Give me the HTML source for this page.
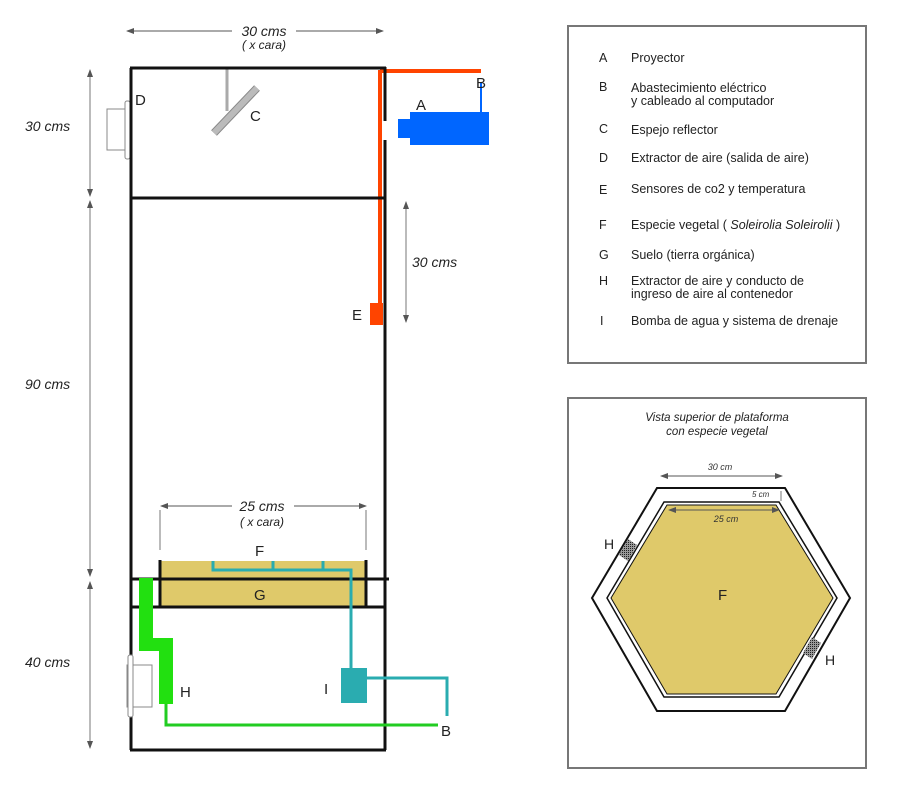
<!DOCTYPE html>
<html><head><meta charset="utf-8"><style>
html,body{margin:0;padding:0;background:#fff}
svg{display:block;font-family:"Liberation Sans",sans-serif}
</style></head><body>
<svg width="900" height="792" viewBox="0 0 900 792" xmlns="http://www.w3.org/2000/svg">
<defs>
<marker id="ar" markerWidth="8" markerHeight="6" refX="7" refY="3" orient="auto-start-reverse" markerUnits="userSpaceOnUse"><path d="M0,0 L8,3 L0,6 z" fill="#555"/></marker>
<pattern id="grid" width="2" height="2" patternUnits="userSpaceOnUse"><rect width="2" height="2" fill="#999"/><rect width="1" height="1" fill="#222"/></pattern>
</defs>

<line x1="127" y1="31" x2="232" y2="31" stroke="#555" stroke-width="1" marker-start="url(#ar)"/>
<line x1="296" y1="31" x2="383" y2="31" stroke="#555" stroke-width="1" marker-end="url(#ar)"/>
<text x="264" y="36" font-size="14" font-style="italic" text-anchor="middle" fill="#222">30 cms</text>
<text x="264" y="49" font-size="12" font-style="italic" text-anchor="middle" fill="#222">( x cara)</text>

<line x1="90" y1="70" x2="90" y2="196" stroke="#777" marker-start="url(#ar)" marker-end="url(#ar)"/>
<line x1="90" y1="201" x2="90" y2="576" stroke="#777" marker-start="url(#ar)" marker-end="url(#ar)"/>
<line x1="90" y1="582" x2="90" y2="748" stroke="#777" marker-start="url(#ar)" marker-end="url(#ar)"/>
<text x="25" y="131" font-size="14" font-style="italic" fill="#222">30 cms</text>
<text x="25" y="389" font-size="14" font-style="italic" fill="#222">90 cms</text>
<text x="25" y="667" font-size="14" font-style="italic" fill="#222">40 cms</text>

<line x1="406" y1="202" x2="406" y2="322" stroke="#777" marker-start="url(#ar)" marker-end="url(#ar)"/>
<text x="412" y="267" font-size="14" font-style="italic" fill="#222">30 cms</text>

<rect x="107" y="109" width="18" height="41" fill="#fff" stroke="#888" stroke-width="1"/>
<rect x="125" y="101" width="5" height="58" rx="2" fill="#fff" stroke="#888" stroke-width="1"/>
<text x="135" y="105" font-size="15" fill="#222">D</text>

<line x1="227" y1="68" x2="227" y2="111" stroke="#aaa" stroke-width="3"/>
<line x1="214" y1="133" x2="257" y2="88" stroke="#888" stroke-width="8"/>
<line x1="214" y1="133" x2="257" y2="88" stroke="#bbb" stroke-width="6"/>
<text x="250" y="121" font-size="15" fill="#222">C</text>

<line x1="380" y1="71" x2="481" y2="71" stroke="#ff4400" stroke-width="4"/>
<line x1="380" y1="70" x2="380" y2="320" stroke="#ff4400" stroke-width="4"/>
<rect x="370" y="303" width="13" height="22" fill="#ff4400"/>
<text x="352" y="320" font-size="15" fill="#222">E</text>

<line x1="481" y1="83" x2="481" y2="113" stroke="#0066ff" stroke-width="2"/>
<rect x="410" y="112" width="79" height="33" fill="#0066ff"/>
<rect x="398" y="119" width="13" height="19" fill="#0066ff"/>
<text x="416" y="110" font-size="15" fill="#222">A</text>
<text x="476" y="88" font-size="15" fill="#222">B</text>

<g stroke="#111" stroke-width="3" fill="none">
<line x1="131" y1="68" x2="131" y2="750"/>
<line x1="130" y1="68" x2="386" y2="68"/>
<line x1="385" y1="67" x2="385" y2="121"/>
<line x1="385" y1="140" x2="385" y2="750"/>
<line x1="130" y1="198" x2="386" y2="198"/>
<line x1="130" y1="750" x2="386" y2="750"/>
</g>

<line x1="161" y1="506" x2="232" y2="506" stroke="#555" marker-start="url(#ar)"/>
<line x1="294" y1="506" x2="366" y2="506" stroke="#555" marker-end="url(#ar)"/>
<line x1="160" y1="510" x2="160" y2="550" stroke="#777"/>
<line x1="366" y1="510" x2="366" y2="550" stroke="#777"/>
<text x="262" y="511" font-size="14" font-style="italic" text-anchor="middle" fill="#222">25 cms</text>
<text x="262" y="526" font-size="12" font-style="italic" text-anchor="middle" fill="#222">( x cara)</text>

<rect x="160" y="561" width="206" height="46" fill="#dfc96a"/>
<line x1="131" y1="579" x2="389" y2="579" stroke="#111" stroke-width="3"/>
<line x1="160" y1="560" x2="160" y2="607" stroke="#111" stroke-width="3"/>
<line x1="366" y1="560" x2="366" y2="607" stroke="#111" stroke-width="3"/>
<line x1="131" y1="607" x2="385" y2="607" stroke="#111" stroke-width="3"/>
<text x="255" y="556" font-size="15" fill="#222">F</text>
<text x="254" y="600" font-size="15" fill="#222">G</text>

<g stroke="#2aacb0" stroke-width="3" fill="none">
<polyline points="213,561 213,570 351,570 351,670"/>
<line x1="273" y1="561" x2="273" y2="570"/>
<line x1="323" y1="561" x2="323" y2="570"/>
<polyline points="366,678 447,678 447,716"/>
</g>
<rect x="341" y="668" width="26" height="35" fill="#2aacb0"/>
<text x="324" y="694" font-size="15" fill="#222">I</text>

<rect x="127" y="665" width="25" height="42" fill="#fff" stroke="#888"/>
<rect x="128" y="655" width="5" height="62" rx="2" fill="#fff" stroke="#888"/>
<polygon points="139,578 153,578 153,638 173,638 173,704 159,704 159,651 139,651" fill="#22e010"/>
<polyline points="166,704 166,725 438,725" stroke="#22cc22" stroke-width="3" fill="none"/>
<text x="180" y="697" font-size="15" fill="#222">H</text>
<text x="441" y="736" font-size="15" fill="#222">B</text>

<rect x="568" y="26" width="298" height="337" fill="#fff" stroke="#777" stroke-width="2"/>
<g font-size="12.5" fill="#222">
<text x="599" y="62">A</text><text x="631" y="62">Proyector</text>
<text x="599" y="91">B</text><text x="631" y="92">Abastecimiento eléctrico</text><text x="631" y="105">y cableado al computador</text>
<text x="599" y="133">C</text><text x="631" y="134">Espejo reflector</text>
<text x="599" y="162">D</text><text x="631" y="162">Extractor de aire (salida de aire)</text>
<text x="599" y="194">E</text><text x="631" y="193">Sensores de co2 y temperatura</text>
<text x="599" y="229">F</text><text x="631" y="229">Especie vegetal ( <tspan font-style="italic">Soleirolia Soleirolii</tspan> )</text>
<text x="599" y="259">G</text><text x="631" y="259">Suelo (tierra orgánica)</text>
<text x="599" y="285">H</text><text x="631" y="285">Extractor de aire y conducto de</text><text x="631" y="298">ingreso de aire al contenedor</text>
<text x="600" y="325">I</text><text x="631" y="325">Bomba de agua y sistema de drenaje</text>
</g>

<rect x="568" y="398" width="298" height="370" fill="#fff" stroke="#777" stroke-width="2"/>
<text x="717" y="421" font-size="11.5" font-style="italic" text-anchor="middle" fill="#222">Vista superior de plataforma</text>
<text x="717" y="435" font-size="11.5" font-style="italic" text-anchor="middle" fill="#222">con especie vegetal</text>
<text x="720" y="470" font-size="9" font-style="italic" text-anchor="middle" fill="#333">30 cm</text>
<line x1="661" y1="476" x2="782" y2="476" stroke="#555" marker-start="url(#ar)" marker-end="url(#ar)"/>
<polygon points="657,488 785,488 850,598 785,711 657,711 592,598" fill="#fff" stroke="#111" stroke-width="2"/>
<polygon points="664,502 779,502 837,598 779,697 664,697 607,598" fill="#fff" stroke="#111" stroke-width="1.5"/>
<polygon points="667,505 776,505 833,598 776,694 667,694 611,598" fill="#dfc96a" stroke="#111" stroke-width="1"/>
<text x="752" y="497" font-size="8" font-style="italic" fill="#333">5 cm</text>
<line x1="781" y1="491" x2="781" y2="501" stroke="#555" stroke-width="0.8"/>
<line x1="669" y1="510" x2="779" y2="510" stroke="#555" marker-start="url(#ar)" marker-end="url(#ar)"/>
<text x="726" y="522" font-size="9" font-style="italic" text-anchor="middle" fill="#333">25 cm</text>
<polygon points="628,539 637,545 628,561 619,555" fill="url(#grid)"/>
<polygon points="812,637 821,643 812,659 803,653" fill="url(#grid)"/>
<text x="604" y="549" font-size="14" fill="#222">H</text>
<text x="825" y="665" font-size="14" fill="#222">H</text>
<text x="718" y="600" font-size="15" fill="#222">F</text>
</svg>
</body></html>
